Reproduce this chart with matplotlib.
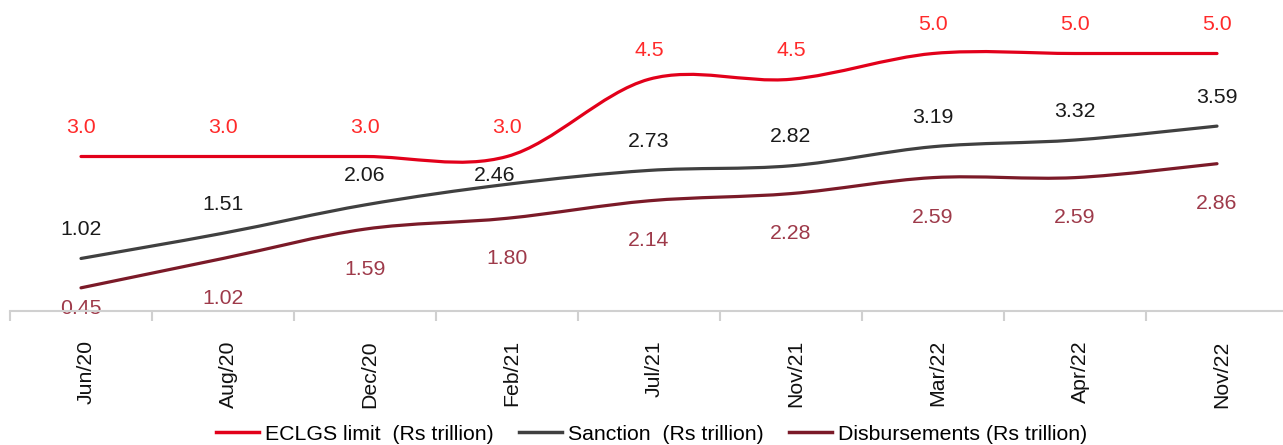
import matplotlib
matplotlib.use("Agg")
import matplotlib.pyplot as plt
from matplotlib.path import Path
from matplotlib.patches import PathPatch
from matplotlib.lines import Line2D
import matplotlib.transforms as mtransforms
import numpy as np

categories = ["Jun/20", "Aug/20", "Dec/20", "Feb/21", "Jul/21", "Nov/21", "Mar/22", "Apr/22", "Nov/22"]
eclgs_limit = [3.0, 3.0, 3.0, 3.0, 4.5, 4.5, 5.0, 5.0, 5.0]
sanction = [1.02, 1.51, 2.06, 2.46, 2.73, 2.82, 3.19, 3.32, 3.59]
disbursements = [0.45, 1.02, 1.59, 1.80, 2.14, 2.28, 2.59, 2.59, 2.86]
series_names = ["ECLGS limit  (Rs trillion)", "Sanction  (Rs trillion)", "Disbursements (Rs trillion)"]

plt.rcParams['font.family'] = ['Liberation Sans', 'DejaVu Sans']
FS = 15.3

fig = plt.figure(figsize=(12.83, 4.45), dpi=100)
ax = fig.add_axes([10/1283, 134/445, 1278/1283, 309/445])
ax.set_xlim(-0.5, len(categories) - 0.5)
ax.set_ylim(0, 6)


def smooth_path(xs, ys):
    pts = np.column_stack([xs, ys]).astype(float)
    n = len(pts)
    verts = [pts[0]]
    codes = [Path.MOVETO]
    for i in range(n - 1):
        p0 = pts[i - 1] if i > 0 else pts[i]
        p1 = pts[i]
        p2 = pts[i + 1]
        p3 = pts[i + 2] if i + 2 < n else pts[i + 1]
        c1 = p1 + (p2 - p0) / 6.0
        c2 = p2 - (p3 - p1) / 6.0
        verts += [c1, c2, p2]
        codes += [Path.CURVE4] * 3
    return Path(verts, codes)


line_colors = ["#E2001A", "#404040", "#7B1A28"]
label_colors = ["#FF2A2A", "#1A1A1A", "#9E3A4A"]
x = np.arange(len(categories))
all_series = [eclgs_limit, sanction, disbursements]
fmts = ["{:.1f}", "{:.2f}", "{:.2f}"]

for s, lc in zip(all_series, line_colors):
    patch = PathPatch(smooth_path(x, s), facecolor="none", edgecolor=lc, lw=2.3,
                      capstyle="round", joinstyle="round", zorder=3)
    ax.add_patch(patch)

# data labels (offsets in pixels: above for first two, below for disbursements)
px_per_unit = 309 / 6.0
for si, (s, tc, fmt) in enumerate(zip(all_series, label_colors, fmts)):
    for i, v in enumerate(s):
        dx = 0.0
        if si in (0, 1):
            dy = 29.0
        else:
            dy = -40.0
            # keep label inside plot area
            min_center = 2.0
            if v * px_per_unit + dy < min_center:
                dy = min_center - v * px_per_unit
        if si == 1 and categories[i] == "Feb/21":
            dy = 9.0
            dx = -12.0
        ax.annotate(fmt.format(v), (x[i], v), xytext=(dx * 0.72, dy * 0.72),
                    textcoords="offset points", ha="center", va="center",
                    color=tc, fontsize=FS, zorder=2)

for sp in ["top", "right", "left"]:
    ax.spines[sp].set_visible(False)
ax.spines["bottom"].set_color("#D0D0D0")
ax.spines["bottom"].set_linewidth(1.5)
ax.spines["bottom"].set_zorder(5)
ax.set_yticks([])
ax.set_xticks(x)
ax.set_xticklabels(categories, rotation=90, fontsize=FS, color="#111111")
ax.tick_params(axis="x", which="major", length=0, pad=21)
ax.set_xticks(np.arange(-0.5, len(categories), 1.0), minor=True)
ax.tick_params(axis="x", which="minor", length=7, width=1.5, color="#D0D0D0")

shift = mtransforms.ScaledTranslation(5 / 100, 0, fig.dpi_scale_trans)
for lbl in ax.get_xticklabels():
    lbl.set_transform(lbl.get_transform() + shift)

handles = [Line2D([0], [0], color=c, lw=2.5) for c in line_colors]
fig.legend(handles, series_names, loc="lower center", bbox_to_anchor=(0.508, -0.04),
           ncol=3, frameon=False, fontsize=FS, handlelength=2.0, handletextpad=0.3,
           columnspacing=1.2)

fig.savefig("out.png", dpi=100)
